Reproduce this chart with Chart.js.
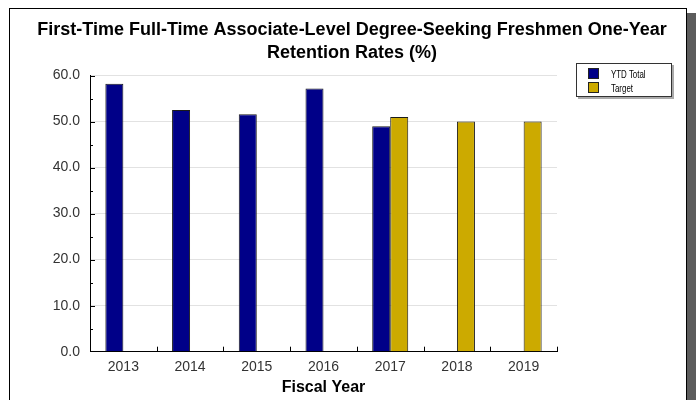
<!DOCTYPE html>
<html>
<head>
<meta charset="utf-8">
<script src="https://cdn.jsdelivr.net/npm/chart.js@4/dist/chart.umd.min.js"></script>
<style>
  body { margin: 0; width: 696px; height: 400px; overflow: hidden; background: #fff; position: relative; font-family: 'Liberation Sans', Arial, sans-serif; }
  .frame { position: absolute; left: 9px; top: 8px; width: 676px; height: 420px; border: 1px solid #000; box-shadow: 10px 5px 0 #5c5c5c; background: #fff; }
  .wrap { position: absolute; left: 0; top: 0; width: 696px; height: 400px; }
  .legend { position: absolute; left: 576px; top: 63px; width: 94px; height: 31px; border: 1px solid #333; box-shadow: 2px 2px 0 #aaa; background: #fff; padding-top: 1px; }
  .legend .item { height: 11px; margin: 3px 0 0 11px; display: flex; align-items: center; }
  .legend .sw { width: 9px; height: 9px; border: 1px solid #222; margin-right: 12px; }
  .legend .lbl { font-size: 11px; color: #000; transform: scaleX(0.72); transform-origin: left center; white-space: nowrap; }
</style>
</head>
<body>
<div class="frame"></div>
<div class="wrap"><canvas class="barChart"></canvas></div>
<div class="legend"></div>
<script>
'use strict';

// DATA
const years = ['2013', '2014', '2015', '2016', '2017', '2018', '2019'];
const ytdTotal = [58.2, 52.5, 51.6, 57.2, 49.0, null, null];
const target = [null, null, null, null, 51.0, 50.0, 50.0];
const yTicks = [0, 10, 20, 30, 40, 50, 60];

Chart.defaults.font.family = "'Liberation Sans', Arial, sans-serif";

// tick marks drawn inside the plot (major every 10, minor every 5)
const tickMarks = {
  id: 'tickMarks',
  afterDraw(chart) {
    const { ctx, scales } = chart;
    const x = scales.x;
    const y = scales.y;
    ctx.save();
    ctx.strokeStyle = '#000';
    ctx.lineWidth = 1;
    ctx.beginPath();
    for (let v = 5; v <= 60; v += 5) {
      const py = Math.round(y.getPixelForValue(v)) + 0.5;
      const len = v % 10 === 0 ? 5 : 3;
      ctx.moveTo(x.left, py);
      ctx.lineTo(x.left + len, py);
    }
    const step = (x.right - x.left) / years.length;
    for (let i = 1; i <= years.length; i++) {
      const px = Math.round(x.left + i * step) + 0.5;
      ctx.moveTo(px, y.bottom);
      ctx.lineTo(px, y.bottom - 5);
    }
    ctx.stroke();
    ctx.restore();
  },
};

const ctx = document.querySelector('.barChart');

const data = {
  labels: years,
  datasets: [
    {
      label: 'YTD Total',
      data: ytdTotal,
      backgroundColor: '#000088',
      borderColor: '#1a1a1a',
      borderWidth: 1,
    },
    {
      label: 'Target',
      data: target,
      backgroundColor: '#CCAA00',
      borderColor: '#1a1a1a',
      borderWidth: 1,
    },
  ],
};

const barChart = new Chart(ctx, {
  type: 'bar',
  data: data,
  options: {
    responsive: true,
    maintainAspectRatio: false,
    animation: false,
    categoryPercentage: 0.54,
    barPercentage: 1.0,
    layout: { padding: { left: 8, right: 0, top: 0, bottom: 0 } },
    plugins: {
      legend: { display: false },
      tooltip: { enabled: false },
      title: {
        display: true,
        text: ['First-Time Full-Time Associate-Level Degree-Seeking Freshmen One-Year', 'Retention Rates (%)'],
        color: '#000',
        font: { size: 18, weight: 'bold', lineHeight: '23px' },
        padding: { top: 18.5, bottom: 11 },
      },
    },
    scales: {
      x: {
        grid: { display: false, drawTicks: false },
        border: { display: true, color: '#000', width: 1 },
        ticks: { color: '#333', font: { size: 14 }, padding: 7 },
        title: {
          display: true,
          text: 'Fiscal Year',
          color: '#000',
          font: { size: 16, weight: 'bold' },
          padding: { top: 2, bottom: 3 },
        },
        afterFit(scale) { scale.height = 48.3; },
      },
      y: {
        min: 0,
        max: 60,
        afterBuildTicks(scale) { scale.ticks = yTicks.map(v => ({ value: v })); },
        grid: {
          drawTicks: false,
          color: c => (c.tick && c.tick.value === 0 ? 'rgba(0,0,0,0)' : '#e2e2e2'),
        },
        border: { display: true, color: '#000', width: 1 },
        ticks: {
          color: '#333',
          font: { size: 14 },
          padding: 10,
          callback: v => Number(v).toFixed(1),
        },
        afterFit(scale) { scale.width = 82; },
      },
      yRight: {
        position: 'right',
        display: true,
        grid: { display: false, drawTicks: false },
        border: { display: false },
        ticks: { display: false },
        afterFit(scale) { scale.width = 139; },
      },
    },
  },
  plugins: [tickMarks],
});

// legend built from the datasets
const legendEl = document.querySelector('.legend');
data.datasets.forEach(ds => {
  const item = document.createElement('div');
  item.className = 'item';
  const sw = document.createElement('span');
  sw.className = 'sw';
  sw.style.background = ds.backgroundColor;
  const lbl = document.createElement('span');
  lbl.className = 'lbl';
  lbl.textContent = ds.label;
  item.appendChild(sw);
  item.appendChild(lbl);
  legendEl.appendChild(item);
});
</script>
</body>
</html>
